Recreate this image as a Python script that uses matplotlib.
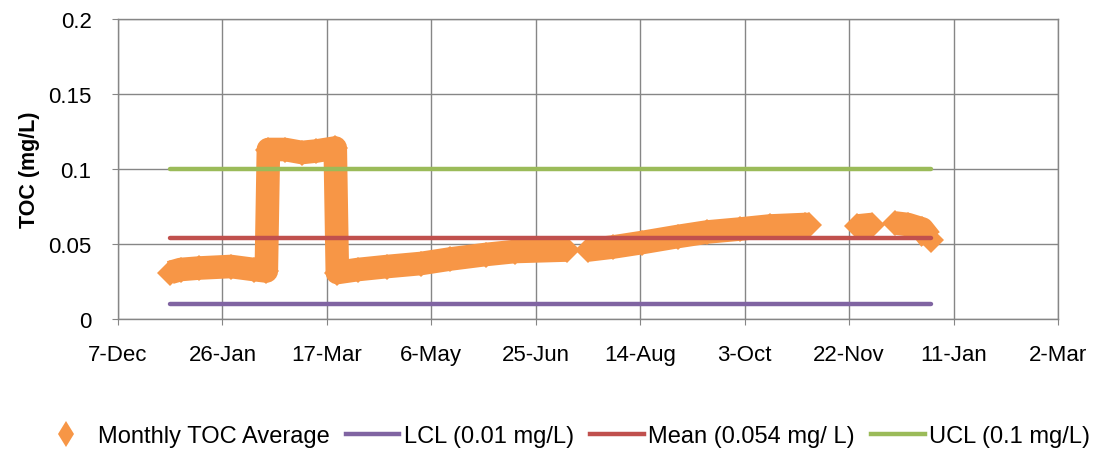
import matplotlib
matplotlib.use("Agg")
import matplotlib.pyplot as plt
from matplotlib.lines import Line2D
import numpy as np
import pandas as pd

plt.rcParams['font.family'] = ['Liberation Sans', 'DejaVu Sans']

# Monthly TOC average (mg/L); None marks gaps in the record
toc_dates = ["2013-01-01", "2013-01-06", "2013-01-15", "2013-01-30", "2013-02-10", "2013-02-16",
             "2013-02-17", "2013-02-25", "2013-03-05", "2013-03-12", "2013-03-21",
             "2013-03-22", "2013-04-01", "2013-04-15", "2013-05-01", "2013-05-15", "2013-06-01",
             "2013-06-15", "2013-07-10",
             "2013-07-15",
             "2013-07-20", "2013-08-01", "2013-08-15", "2013-09-01", "2013-09-15", "2013-10-01",
             "2013-10-15", "2013-11-01", "2013-11-03",
             "2013-11-15",
             "2013-11-26", "2013-12-03",
             "2013-12-09",
             "2013-12-14", "2013-12-20", "2013-12-27", "2013-12-31"]
toc_values = [0.031, 0.033, 0.034, 0.035, 0.033, 0.032,
              0.113, 0.113, 0.111, 0.112, 0.114,
              0.031, 0.033, 0.035, 0.037, 0.040, 0.043,
              0.045, 0.046,
              None,
              0.046, 0.048, 0.051, 0.055, 0.058, 0.060,
              0.062, 0.063, 0.063,
              None,
              0.062, 0.063,
              None,
              0.064, 0.063, 0.060, 0.053]

limit_dates = ["2013-01-01", "2013-12-31"]
lcl = 0.01
mean = 0.054
ucl = 0.1

x_start = "2012-12-07"
x_end = "2014-03-02"
tick_step_days = 50
y_ticks = [0, 0.05, 0.1, 0.15, 0.2]
y_ticklabels = ["0", "0.05", "0.1", "0.15", "0.2"]

ORANGE = "#F79646"
PURPLE = "#8064A2"
RED = "#C0504D"
GREEN = "#9BBB59"
GRID = "#868686"

fig = plt.figure(figsize=(10.96, 4.52), dpi=100)
ax = fig.add_axes([118/1096, 1 - 320/452, (1058 - 118)/1096, 300/452])

td = pd.to_datetime(toc_dates)
tv = np.array([np.nan if v is None else v for v in toc_values], dtype=float)
ld = pd.to_datetime(limit_dates)

ax.plot(ld, [lcl, lcl], color=PURPLE, lw=3.2, solid_capstyle='round', zorder=3)
ax.plot(ld, [mean, mean], color=RED, lw=3.2, solid_capstyle='round', zorder=5)
ax.plot(ld, [ucl, ucl], color=GREEN, lw=3.2, solid_capstyle='round', zorder=5)
ax.plot(td, tv, color=ORANGE, lw=17.0, marker='D', ms=13.5, mew=0,
        solid_joinstyle='round', solid_capstyle='butt', zorder=4)

xs = pd.Timestamp(x_start)
xe = pd.Timestamp(x_end)
ticks = pd.date_range(xs, xe, freq=f"{tick_step_days}D")
ax.set_xlim(xs, xe)
ax.set_xticks(ticks)
ax.set_xticklabels([t.strftime("%-d-%b") for t in ticks])
ax.set_ylim(0, 0.2)
ax.set_yticks(y_ticks)
ax.set_yticklabels(y_ticklabels)

ax.grid(True, color=GRID, lw=1)
ax.set_axisbelow(True)
for s in ax.spines.values():
    s.set_color(GRID)
    s.set_linewidth(1)
ax.tick_params(axis='both', colors=GRID, labelcolor='#000000', labelsize=16, length=4)
ax.tick_params(axis='x', pad=14)
ax.tick_params(axis='y', pad=15)

ax.set_ylabel("TOC (mg/L)", fontsize=15.5, fontweight='bold')
ax.yaxis.set_label_coords(-(118 - 40)/940, 0.5)

handles = [
    Line2D([], [], color=ORANGE, marker='d', ms=13, mew=0, ls='none'),
    Line2D([], [], color=PURPLE, lw=3.2),
    Line2D([], [], color=RED, lw=3.2),
    Line2D([], [], color=GREEN, lw=3.2),
]
labels = ["Monthly TOC Average", "LCL (0.01 mg/L)", "Mean (0.054 mg/ L)", "UCL (0.1 mg/L)"]
fig.legend(handles, labels, loc='center', bbox_to_anchor=(565/1096, 1 - 437/452), ncol=4,
           frameon=False, fontsize=17, handlelength=2.25, handletextpad=0.2, columnspacing=0.7,
           borderaxespad=0, borderpad=0)

fig.savefig("out.png", dpi=100)
